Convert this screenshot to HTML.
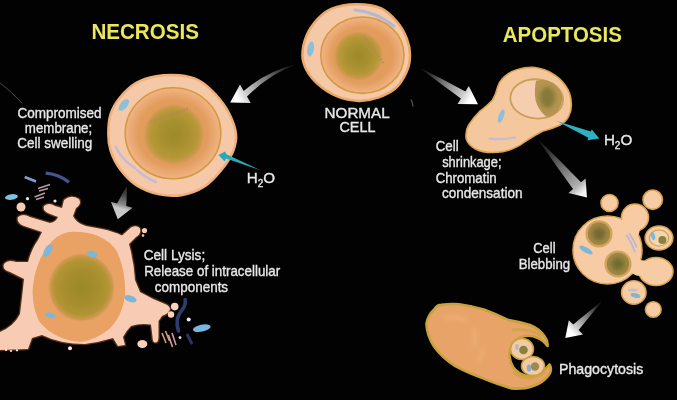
<!DOCTYPE html>
<html>
<head>
<meta charset="utf-8">
<title>Necrosis vs Apoptosis</title>
<style>
html,body{margin:0;padding:0;background:#000;}
body{width:677px;height:400px;overflow:hidden;font-family:"Liberation Sans",sans-serif;}
svg{display:block;position:absolute;left:0;top:0;}
text{font-family:"Liberation Sans",sans-serif;}
.w{fill:#e8e8e8;font-size:14.5px;stroke:#e8e8e8;stroke-width:0.35px;}
.t{fill:#e9e85c;font-size:21.5px;font-weight:bold;}
</style>
</head>
<body>
<svg width="677" height="400" viewBox="0 0 677 400">
<defs>
  <filter id="b1" x="-10%" y="-10%" width="120%" height="120%"><feGaussianBlur stdDeviation="0.7"/></filter>
  <filter id="b2" x="-20%" y="-20%" width="140%" height="140%"><feGaussianBlur stdDeviation="2"/></filter>
  <filter id="b3" x="-20%" y="-20%" width="140%" height="140%"><feGaussianBlur stdDeviation="4"/></filter>
  <filter id="bt" x="-5%" y="-20%" width="110%" height="140%"><feGaussianBlur stdDeviation="0.45"/></filter>
  <radialGradient id="nuc" cx="50%" cy="50%" r="50%">
    <stop offset="0" stop-color="#e09a58"/>
    <stop offset="0.72" stop-color="#e29c5c"/>
    <stop offset="0.88" stop-color="#ebaa74"/>
    <stop offset="1" stop-color="#f0b484"/>
  </radialGradient>
  <radialGradient id="olv" cx="50%" cy="50%" r="50%">
    <stop offset="0" stop-color="#9c8a28"/>
    <stop offset="0.45" stop-color="#a89030"/>
    <stop offset="0.78" stop-color="#b89838"/>
    <stop offset="0.9" stop-color="#c8984a" stop-opacity="0.85"/>
    <stop offset="1" stop-color="#e09a58" stop-opacity="0"/>
  </radialGradient>
  <radialGradient id="nuc2" cx="50%" cy="50%" r="50%">
    <stop offset="0" stop-color="#9a882a"/>
    <stop offset="0.5" stop-color="#a68e2e"/>
    <stop offset="0.8" stop-color="#b49434"/>
    <stop offset="0.92" stop-color="#c8964a" stop-opacity="0.8"/>
    <stop offset="1" stop-color="#e6a266" stop-opacity="0"/>
  </radialGradient>
  <clipPath id="lyclip"><path d="M64,200 Q71,194 79,199 Q82,204 76,208 L73,216 Q76,223 86,226 L102,229 Q114,231.5 122,235.5 L131,227.5 Q137,224.5 140,228.5 Q141.5,234 136,237 L129,244 Q134,262 135,280 L140,292 Q152,299 165,304 Q170,306 170,309.5 Q168,314 162,316 L158.5,321 L158.5,337 Q158.5,342.5 155.5,342.5 Q152.5,342.5 152.5,337 L151,324.5 Q140,323 131,326 Q126,331 123,337 L125,345 L118,346 L113,338 Q100,342 85,344 Q60,344 42,335 L32,338 L28,349 L0,350 L0,332 Q14,326 20,314 Q22,298 24,279 L10,272 Q2,270 4,264 Q8,259 16,262 L28,262 Q32,248 38,240 L42,232 L24,226 Q16,223 18,217 Q23,213 30,217 L50,223 Q56,222 58,217 L50,214 Q42,211 44,206 Q49,202 55,206 L62,208 Z"/></clipPath>
  <linearGradient id="a1" gradientUnits="userSpaceOnUse" x1="297.0" y1="64.0" x2="230.2" y2="102.5"><stop offset="0" stop-color="#2a2a2a" stop-opacity="0.3"/><stop offset="0.39" stop-color="#6a6a6a"/><stop offset="0.77" stop-color="#d0d0d0"/><stop offset="0.89" stop-color="#ffffff"/><stop offset="1" stop-color="#ffffff"/></linearGradient>
  <linearGradient id="a2" gradientUnits="userSpaceOnUse" x1="419.3" y1="67.5" x2="478.0" y2="104.3"><stop offset="0" stop-color="#2a2a2a" stop-opacity="0.3"/><stop offset="0.37" stop-color="#6a6a6a"/><stop offset="0.75" stop-color="#d0d0d0"/><stop offset="0.87" stop-color="#ffffff"/><stop offset="1" stop-color="#ffffff"/></linearGradient>
  <linearGradient id="a3" gradientUnits="userSpaceOnUse" x1="537.5" y1="138.8" x2="587.0" y2="197.5"><stop offset="0" stop-color="#222222" stop-opacity="0.5"/><stop offset="0.40" stop-color="#5c5c5c"/><stop offset="0.80" stop-color="#b0b0b0"/><stop offset="0.92" stop-color="#f4f4f4"/><stop offset="1" stop-color="#f4f4f4"/></linearGradient>
  <linearGradient id="a4" gradientUnits="userSpaceOnUse" x1="602.6" y1="300.6" x2="565.3" y2="337.9"><stop offset="0" stop-color="#2a2a2a" stop-opacity="0.3"/><stop offset="0.36" stop-color="#6a6a6a"/><stop offset="0.72" stop-color="#d0d0d0"/><stop offset="0.84" stop-color="#ffffff"/><stop offset="1" stop-color="#ffffff"/></linearGradient>
  <linearGradient id="a5" gradientUnits="userSpaceOnUse" x1="126.8" y1="186.2" x2="117.8" y2="219.2"><stop offset="0" stop-color="#333" stop-opacity="0.7"/><stop offset="0.28" stop-color="#484848"/><stop offset="0.56" stop-color="#8c8c8c"/><stop offset="0.68" stop-color="#c8c8c8"/><stop offset="1" stop-color="#c8c8c8"/></linearGradient>
</defs>
<rect width="677" height="400" fill="#030202"/>

<!-- faint line top-left -->
<path d="M0,83 Q12,92 22,103" stroke="#4a4548" stroke-width="1" fill="none"/>

<path d="M411,99.5 Q412.5,102 413,106.5" stroke="#505050" stroke-width="1.4" fill="none" filter="url(#b1)"/>
<!-- ARROWS -->
<g filter="url(#b1)">
  <path d="M297.0,64.0 Q268.7,74.5 247.0,96.6 L250.7,103.1 L230.2,102.5 L240.0,84.4 L243.7,90.9 Q266.7,71.1 297.0,64.0 Z" fill="url(#a1)"/>
  <path d="M419.3,67.5 Q442.6,79.1 465.4,91.4 L468.8,86.1 L478.0,104.3 L457.6,103.9 L460.9,98.6 Q439.9,83.4 419.3,67.5 Z" fill="url(#a2)"/>
  <path d="M537.5,138.8 Q559.7,160.2 581.0,182.3 L585.6,178.4 L587.0,197.5 L568.4,192.9 L573.0,189.0 Q554.8,164.2 537.5,138.8 Z" fill="url(#a3)"/>
  <path d="M602.6,300.6 Q590.8,315.5 578.6,329.9 L583.0,334.4 L565.3,337.9 L568.8,320.2 L573.3,324.6 Q587.7,312.4 602.6,300.6 Z" fill="url(#a4)"/>
  <path d="M126.8,186.2 Q127.0,196.3 126.3,206.0 L132.5,207.7 L117.8,219.2 L110.9,201.8 L117.1,203.5 Q121.5,194.8 126.8,186.2 Z" fill="url(#a5)"/>
</g>

<!-- NORMAL CELL -->
<g id="normal" filter="url(#b1)">
  <path d="M302.4,55.0 C302.4,49.3 304.0,41.7 306.5,35.7 C309.0,29.7 313.4,23.7 317.5,19.2 C321.6,14.7 324.8,11.3 331.2,8.8 C337.6,6.3 347.8,4.4 356.0,4.3 C364.2,4.2 373.8,5.2 380.7,8.2 C387.6,11.1 392.8,16.9 397.2,22.0 C401.6,27.1 404.7,33.0 406.8,38.5 C408.9,44.0 410.0,49.5 410.0,55.0 C410.0,60.5 409.2,66.0 406.8,71.5 C404.4,77.0 400.6,83.7 395.8,88.0 C391.0,92.3 384.2,95.4 378.0,97.6 C371.8,99.8 365.6,101.1 358.7,100.9 C351.8,100.7 343.6,99.1 336.7,96.2 C329.8,93.3 322.5,88.2 317.5,83.8 C312.5,79.4 309.0,74.8 306.5,70.0 C304.0,65.2 302.4,60.7 302.4,55.0 Z" fill="#f5c8a8"/>
  <path d="M302.4,55.0 C302.4,49.3 304.0,41.7 306.5,35.7 C309.0,29.7 313.4,23.7 317.5,19.2 C321.6,14.7 324.8,11.3 331.2,8.8 C337.6,6.3 347.8,4.4 356.0,4.3 C364.2,4.2 373.8,5.2 380.7,8.2 C387.6,11.1 392.8,16.9 397.2,22.0 C401.6,27.1 404.7,33.0 406.8,38.5 C408.9,44.0 410.0,49.5 410.0,55.0 C410.0,60.5 409.2,66.0 406.8,71.5 C404.4,77.0 400.6,83.7 395.8,88.0 C391.0,92.3 384.2,95.4 378.0,97.6 C371.8,99.8 365.6,101.1 358.7,100.9 C351.8,100.7 343.6,99.1 336.7,96.2 C329.8,93.3 322.5,88.2 317.5,83.8 C312.5,79.4 309.0,74.8 306.5,70.0 C304.0,65.2 302.4,60.7 302.4,55.0 Z" fill="none" stroke="#eba868" stroke-width="2.5"/>
  <ellipse cx="362.4" cy="55.2" rx="41.6" ry="38.2" fill="url(#nuc)" stroke="#d39a40" stroke-width="1.6"/>
  <ellipse cx="358.5" cy="56" rx="25" ry="25" fill="url(#olv)"/>
  <ellipse cx="310.6" cy="49" rx="3.3" ry="7.5" fill="#8dbfd6" transform="rotate(10 310.6 49)"/>
  <path d="M355,10 Q376,12 394,26" stroke="#b4b8d2" stroke-width="3" fill="none" stroke-linecap="round"/>
  <path d="M364,36 L384,64" stroke="#b08858" stroke-width="2.6" stroke-dasharray="2 1.5" fill="none" opacity="0.6"/>
</g>

<!-- NECROSIS SWOLLEN CELL -->
<g id="swollen" filter="url(#b1)">
  <path d="M108.3,134.0 C108.3,128.0 108.7,120.2 110.6,114.2 C112.5,108.2 115.5,102.9 119.8,97.7 C124.1,92.5 130.2,86.5 136.3,82.9 C142.4,79.3 148.9,77.6 156.1,76.3 C163.2,75.0 172.0,74.6 179.2,75.3 C186.3,76.0 192.9,77.3 199.0,80.5 C205.1,83.7 210.6,89.1 215.5,94.4 C220.4,99.8 225.3,106.0 228.7,112.6 C232.1,119.2 235.3,127.5 236.0,134.0 C236.7,140.5 235.5,145.4 233.0,151.5 C230.5,157.6 225.8,164.7 221.0,170.5 C216.2,176.3 210.9,182.4 204.5,186.5 C198.1,190.6 190.0,193.7 182.5,195.0 C175.0,196.3 167.1,196.0 159.4,194.4 C151.7,192.8 142.9,189.5 136.3,185.2 C129.7,180.9 124.1,174.5 119.8,168.7 C115.5,162.9 112.5,156.3 110.6,150.5 C108.7,144.7 108.3,140.1 108.3,134.0 Z" fill="#f5c8a8"/>
  <path d="M108.3,134.0 C108.3,128.0 108.7,120.2 110.6,114.2 C112.5,108.2 115.5,102.9 119.8,97.7 C124.1,92.5 130.2,86.5 136.3,82.9 C142.4,79.3 148.9,77.6 156.1,76.3 C163.2,75.0 172.0,74.6 179.2,75.3 C186.3,76.0 192.9,77.3 199.0,80.5 C205.1,83.7 210.6,89.1 215.5,94.4 C220.4,99.8 225.3,106.0 228.7,112.6 C232.1,119.2 235.3,127.5 236.0,134.0 C236.7,140.5 235.5,145.4 233.0,151.5 C230.5,157.6 225.8,164.7 221.0,170.5 C216.2,176.3 210.9,182.4 204.5,186.5 C198.1,190.6 190.0,193.7 182.5,195.0 C175.0,196.3 167.1,196.0 159.4,194.4 C151.7,192.8 142.9,189.5 136.3,185.2 C129.7,180.9 124.1,174.5 119.8,168.7 C115.5,162.9 112.5,156.3 110.6,150.5 C108.7,144.7 108.3,140.1 108.3,134.0 Z" fill="none" stroke="#efb07a" stroke-width="2.5"/>
  <ellipse cx="173" cy="133.2" rx="47.8" ry="45.5" fill="url(#nuc)" stroke="#d39a40" stroke-width="1.6"/>
  <ellipse cx="174" cy="134.5" rx="31" ry="31" fill="url(#olv)"/>
  <ellipse cx="123.8" cy="105" rx="3.6" ry="7" fill="#8dbfd6" transform="rotate(40 123.8 105)"/>
  <path d="M115.7,147 Q122,160 135,168" stroke="#c4bcd4" stroke-width="2.5" fill="none" stroke-linecap="round"/>
  <path d="M137,170 Q146,178 156,182" stroke="#c4bcd4" stroke-width="2.5" fill="none" stroke-linecap="round"/>
  <path d="M150,122 L190,108" stroke="#b08858" stroke-width="3" stroke-dasharray="2 1.5" fill="none" opacity="0.6"/>
</g>
<!-- cyan arrow H2O left -->
<path d="M218.6,155 L225,151.6 L226.5,154.2 L260.5,170.2 L226,158.6 L224.6,161.6 Z" fill="#2aa8b8" filter="url(#b1)"/>

<!-- LYSED CELL -->
<g id="lysed" filter="url(#b1)">
  <path d="M64,200 Q71,194 79,199 Q82,204 76,208 L73,216 Q76,223 86,226 L102,229 Q114,231.5 122,235.5 L131,227.5 Q137,224.5 140,228.5 Q141.5,234 136,237 L129,244 Q134,262 135,280 L140,292 Q152,299 165,304 Q170,306 170,309.5 Q168,314 162,316 L158.5,321 L158.5,337 Q158.5,342.5 155.5,342.5 Q152.5,342.5 152.5,337 L151,324.5 Q140,323 131,326 Q126,331 123,337 L125,345 L118,346 L113,338 Q100,342 85,344 Q60,344 42,335 L32,338 L28,349 L0,350 L0,332 Q14,326 20,314 Q22,298 24,279 L10,272 Q2,270 4,264 Q8,259 16,262 L28,262 Q32,248 38,240 L42,232 L24,226 Q16,223 18,217 Q23,213 30,217 L50,223 Q56,222 58,217 L50,214 Q42,211 44,206 Q49,202 55,206 L62,208 Z" fill="none" stroke="#9a5420" stroke-width="2.6" opacity="0.55" stroke-linejoin="round"/>
  <path d="M64,200 Q71,194 79,199 Q82,204 76,208 L73,216 Q76,223 86,226 L102,229 Q114,231.5 122,235.5 L131,227.5 Q137,224.5 140,228.5 Q141.5,234 136,237 L129,244 Q134,262 135,280 L140,292 Q152,299 165,304 Q170,306 170,309.5 Q168,314 162,316 L158.5,321 L158.5,337 Q158.5,342.5 155.5,342.5 Q152.5,342.5 152.5,337 L151,324.5 Q140,323 131,326 Q126,331 123,337 L125,345 L118,346 L113,338 Q100,342 85,344 Q60,344 42,335 L32,338 L28,349 L0,350 L0,332 Q14,326 20,314 Q22,298 24,279 L10,272 Q2,270 4,264 Q8,259 16,262 L28,262 Q32,248 38,240 L42,232 L24,226 Q16,223 18,217 Q23,213 30,217 L50,223 Q56,222 58,217 L50,214 Q42,211 44,206 Q49,202 55,206 L62,208 Z" fill="#f8ccb4"/>
  <g clip-path="url(#lyclip)">
    <path d="M68.7,232 Q85,231 98,236 Q112,242 117.4,252.5 Q126,272 125,294.7 Q122,318 108,330 Q95,340 80,342 Q55,340 39.5,322 Q31,305 33,285 Q36,262 48,246 Q57,234 68.7,232 Z" fill="#e9a264"/>
    <ellipse cx="81.5" cy="287.5" rx="34" ry="35" fill="url(#nuc2)"/>
  </g>
  <ellipse cx="48" cy="250.6" rx="3.5" ry="7" fill="#7fb6d6" transform="rotate(30 48 250.6)"/>
  <ellipse cx="92" cy="254" rx="5.5" ry="3.2" fill="#7fb6d6" transform="rotate(15 92 254)"/>
  <ellipse cx="130.4" cy="298.7" rx="6.5" ry="3.2" fill="#7fb6d6" transform="rotate(20 130.4 298.7)"/>
  <ellipse cx="50.3" cy="315.4" rx="5.5" ry="2.8" fill="#7fb6d6" transform="rotate(15 50.3 315.4)"/>
  <circle cx="21" cy="207" r="4.5" fill="#f8ccb4"/>
  <circle cx="27.5" cy="198.7" r="1.6" fill="#f3e0dc"/>
  <circle cx="55" cy="201" r="1.6" fill="#f3e0dc"/>
  <circle cx="144.5" cy="230.5" r="2.6" fill="#f8ccb4"/>
  <circle cx="143" cy="235.5" r="1.3" fill="#f8ccb4"/>
  <circle cx="174.7" cy="306.6" r="3.8" fill="#f8d4c0"/>
  <circle cx="171" cy="314.5" r="3.2" fill="#f8d4c0"/>
  <circle cx="6" cy="350" r="1.1" fill="#fff"/><circle cx="11" cy="351" r="1" fill="#fff"/><circle cx="17" cy="350.3" r="1.1" fill="#fff"/><circle cx="70" cy="348.3" r="2" fill="#fbe4d8"/>
  <ellipse cx="142.3" cy="344" rx="5" ry="4" fill="#f8d0bc"/>
  <circle cx="188.7" cy="319.4" r="2" fill="#e8e8f0"/>
  <circle cx="180" cy="337.6" r="1.4" fill="#e8e8f0"/>
  <ellipse cx="201.8" cy="328.2" rx="9" ry="3.5" fill="#78b8e0" transform="rotate(-12 201.8 328.2)"/>
  <ellipse cx="11.5" cy="197" rx="6.5" ry="2.8" fill="#7cc2e2" transform="rotate(-8 11.5 197)"/>
  <path d="M24.7,177 L36,181.5" stroke="#7aa0d0" stroke-width="2.8" fill="none"/>
  <path d="M45.7,173.2 Q58,174 69,182.2" stroke="#46548c" stroke-width="3.2" fill="none"/>
  <path d="M38,188.5 L50,184.5 M39,191 L48,188.5 M34.5,197 L45,193 M36,199.5 L44,197" stroke="#b79aa0" stroke-width="1.4" fill="none"/>
  <path d="M185.2,299.6 Q186,305 182.5,309.3 Q178,315 177.3,319.8 Q176.5,326 178.5,331" stroke="#2f3e70" stroke-width="3.6" fill="none" stroke-linecap="round"/>
  <path d="M187.5,335 L191.5,343" stroke="#2a3560" stroke-width="3" fill="none" stroke-linecap="round"/>
  <path d="M162,333 L166,343 M165.5,331 L169.5,341" stroke="#cfa070" stroke-width="1.6" fill="none"/><path d="M168.5,335 L172.5,347 M172,333 L176,345" stroke="#d498a8" stroke-width="1.6" fill="none"/>
</g>

<!-- APOPTOSIS SHRUNKEN CELL -->
<g id="shrunk" filter="url(#b1)">
  <path d="M502.5,78.7 Q508,72 517.5,69.5 Q526,67 535,67.5 Q545,69 552.5,73.7 Q560,78 565,85 Q571,93 571.2,102.5 Q572,110 568.7,116.2 Q566,122 560,125 Q552,129 542.5,131.2 Q535,135 527.5,140 Q520,146 512.5,148.7 Q503,152.5 492.5,152.5 Q482,152.5 475,148.7 Q468,144.5 466.2,138.7 Q465,131 468.7,125 Q474,117 480,111.2 Q488,105 492.5,100 Q496,94 497.5,87.5 Q499,82 502.5,78.7 Z" fill="#f4c79c" stroke="#dba352" stroke-width="1.6"/>
  <ellipse cx="536.7" cy="98.9" rx="26.4" ry="19.6" fill="#f7cdb0" stroke="#c9a058" stroke-width="1.8" transform="rotate(4 536.7 98.9)"/>
  <path d="M536,80.8 Q545,78.3 553,83 Q561.5,89.5 562.3,98 Q562,107 556,113 Q551,117.5 546,116.5 Q538,110 535.5,100 Q534,90 536,80.8 Z" fill="#b49450"/>
  <ellipse cx="547.5" cy="97.5" rx="7.5" ry="10.5" fill="#86783a" filter="url(#b2)"/>
  <ellipse cx="501.2" cy="116.2" rx="2.6" ry="7" fill="#8dbfd6" transform="rotate(20 501.2 116.2)"/>
  <path d="M489.5,138.6 Q502,140 515,137.5" stroke="#c4bcd4" stroke-width="2.2" fill="none" stroke-linecap="round"/>
</g>
<path d="M556.5,121 L590.8,131.6 L591.8,129.4 L599.3,138.6 L587.4,140.2 L588.4,137.8 Z" fill="#2fb0c2" filter="url(#b1)"/>

<!-- BLEBBING CELL -->
<g id="bleb" filter="url(#b1)">
  <g fill="#f7cca4" stroke="#d9a250" stroke-width="1.6">
    <ellipse cx="607.5" cy="250" rx="34.5" ry="34"/>
    <circle cx="635" cy="217.5" r="13.5"/>
    <ellipse cx="659" cy="238" rx="13.8" ry="12"/>
    <ellipse cx="656" cy="271.5" rx="17" ry="14"/>
    <ellipse cx="633.8" cy="292.5" rx="12.2" ry="11.7"/>
    <circle cx="653.3" cy="309.5" r="7.8"/>
    <circle cx="609.5" cy="203" r="8.5"/>
    <circle cx="652.7" cy="199.7" r="9.7"/>
  </g>
  <g fill="#f7cca4">
    <ellipse cx="607.5" cy="250" rx="33.6" ry="33.1"/>
    <ellipse cx="630" cy="228" rx="10" ry="13"/>
    <ellipse cx="640" cy="268" rx="10" ry="8"/>
  </g>
  <circle cx="599" cy="233.8" r="13.6" fill="#d0a45c"/>
  <circle cx="599" cy="233.8" r="11.2" fill="#a08644"/>
  <circle cx="599" cy="233.8" r="6.5" fill="#746a30" filter="url(#b2)"/>
  <circle cx="618" cy="264" r="13.6" fill="#d0a45c"/>
  <circle cx="618" cy="264" r="11.2" fill="#a08644"/>
  <circle cx="618" cy="264" r="6.5" fill="#6e6e2e" filter="url(#b2)"/>
  <ellipse cx="586" cy="250" rx="7.5" ry="2.7" fill="#7fb6d6" transform="rotate(30 586 250)"/>
  <path d="M626.7,235.5 Q632,243 634.8,251.7 M629.5,234 Q634,240 636.5,247" stroke="#bdb6d0" stroke-width="1.8" fill="none" stroke-linecap="round"/>
  <ellipse cx="659" cy="238" rx="9.7" ry="8" fill="#f2d6b0" stroke="#c9a050" stroke-width="1.2"/>
  <circle cx="662.4" cy="240" r="4" fill="#8a8040"/>
  <ellipse cx="653" cy="236" rx="2" ry="4" fill="#7fb6d6" transform="rotate(-15 653 236)"/>
  <ellipse cx="635.5" cy="295.5" rx="5" ry="2.2" fill="#7fb6d6" transform="rotate(15 635.5 295.5)"/>
  <ellipse cx="633" cy="290" rx="5" ry="1.5" fill="#c4bcd4"/>
</g>

<!-- PHAGOCYTE -->
<g id="phago" filter="url(#b1)">
  <path d="M434.2,309.5 Q437,305 441.3,304.9 Q450,303.5 459,304.2 Q472,306 483.8,309.5 Q497,314.5 508.6,320.1 Q520,322 530,325 Q540,329 545,337 Q548,341 547.5,346 Q543,340 538,338 Q530,334.5 523,336.5 Q515,339 512,345 Q509,350 509.5,356 Q510,362 513,367 Q518,374 527,376 Q536,377 541,373 Q546,369 549.5,364.5 Q552,368 550,373 Q546,380 538,384 Q530,388 520,388.5 Q512,389 508.6,387.5 Q495,383.5 483.8,378.6 Q468,373 455.4,366.2 Q442,357.5 434.2,346.7 Q427,336 426.4,323.7 Q428,315 434.2,309.5 Z" fill="#e8a468" stroke="#c9a23c" stroke-width="2.6" stroke-linejoin="round"/>
  <path d="M512,330 Q530,328 541,336 M513,372 Q528,384 545,372" stroke="#cda444" stroke-width="3" fill="none" opacity="0.8"/>
  <path d="M474,329 Q476,337 474,345 M483,349 Q482,356 478,361 M446,318 Q456,316 466,320" stroke="#f2b884" stroke-width="2.6" fill="none" opacity="0.7" stroke-linecap="round" filter="url(#b2)"/>
  <ellipse cx="522" cy="349" rx="11.5" ry="10.5" fill="#f1cba4" stroke="#c8a040" stroke-width="1.5"/>
  <ellipse cx="533" cy="366" rx="11.5" ry="9.5" fill="#f1cba4" stroke="#c8a040" stroke-width="1.5"/>
  <circle cx="523.5" cy="350" r="4.3" fill="#8a8040"/>
  <circle cx="535" cy="366.5" r="4.2" fill="#9a8c50"/>
  <ellipse cx="529" cy="368" rx="2.2" ry="3.5" fill="#8aa8d0"/>
  <ellipse cx="517" cy="347" rx="1.8" ry="3" fill="#b0b8d0"/>
</g>

<!-- TEXT -->
<g filter="url(#bt)">
<text class="t" x="91.4" y="38.5" textLength="107.5" lengthAdjust="spacingAndGlyphs">NECROSIS</text>
<text class="t" x="502.8" y="42" textLength="119" lengthAdjust="spacingAndGlyphs">APOPTOSIS</text>
<text class="w" x="324.6" y="117.8" textLength="65" lengthAdjust="spacingAndGlyphs">NORMAL</text>
<text class="w" x="339.4" y="132.4" textLength="36" lengthAdjust="spacingAndGlyphs">CELL</text>
<text class="w" x="17.4" y="117.7" textLength="84.2" lengthAdjust="spacingAndGlyphs">Compromised</text>
<text class="w" x="24.8" y="133.1" textLength="67.4" lengthAdjust="spacingAndGlyphs">membrane;</text>
<text class="w" x="17.2" y="148.2" textLength="75" lengthAdjust="spacingAndGlyphs">Cell swelling</text>
<text class="w" x="246.8" y="183.4" style="font-size:15.2px">H<tspan font-size="10" dy="3.5">2</tspan><tspan dy="-3.5">O</tspan></text>
<text class="w" x="603.9" y="145.2" style="font-size:15.2px">H<tspan font-size="10" dy="4">2</tspan><tspan dy="-4">O</tspan></text>
<text class="w" x="435.7" y="150.6" textLength="23" lengthAdjust="spacingAndGlyphs">Cell</text>
<text class="w" x="442.2" y="166.6" textLength="59.3" lengthAdjust="spacingAndGlyphs">shrinkage;</text>
<text class="w" x="435.7" y="182.5" textLength="61" lengthAdjust="spacingAndGlyphs">Chromatin</text>
<text class="w" x="441.9" y="198.4" textLength="80.6" lengthAdjust="spacingAndGlyphs">condensation</text>
<text class="w" x="533.3" y="253.2" textLength="22.2" lengthAdjust="spacingAndGlyphs">Cell</text>
<text class="w" x="518.7" y="269.3" textLength="51.5" lengthAdjust="spacingAndGlyphs">Blebbing</text>
<text class="w" x="559" y="374.4" textLength="84.3" lengthAdjust="spacingAndGlyphs">Phagocytosis</text>
<text class="w" x="143.7" y="259.8" textLength="61.5" lengthAdjust="spacingAndGlyphs">Cell Lysis;</text>
<text class="w" x="144.2" y="275.7" textLength="136" lengthAdjust="spacingAndGlyphs">Release of intracellular</text>
<text class="w" x="154.8" y="291.7" textLength="73.3" lengthAdjust="spacingAndGlyphs">components</text>
</g>
</svg>
</body>
</html>
